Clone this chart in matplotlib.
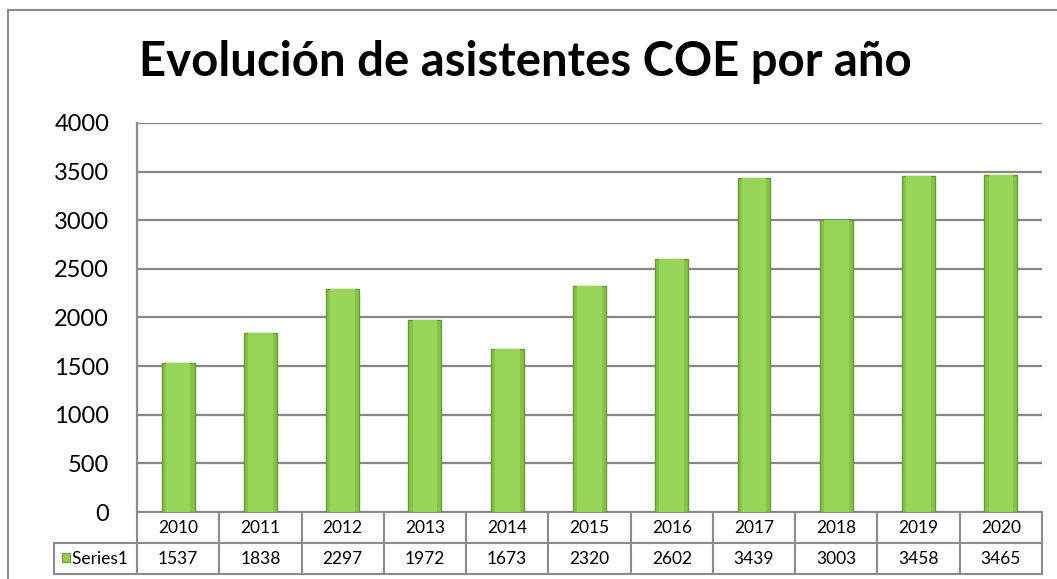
import matplotlib.pyplot as plt
from matplotlib.patches import Rectangle

years = ['2010', '2011', '2012', '2013', '2014', '2015', '2016', '2017', '2018', '2019', '2020']
asistentes = [1537, 1838, 2297, 1972, 1673, 2320, 2602, 3439, 3003, 3458, 3465]
serie = 'Series1'

plt.rcParams['font.family'] = ['Lato', 'DejaVu Sans']

fig = plt.figure(figsize=(10.57, 5.79), dpi=100)
ax = fig.add_axes([0.1296, 0.1157, 0.8562, 0.6719])

# borde exterior del grafico (solo se ve arriba e izquierda)
fig.patches.append(Rectangle((8 / 1057, -0.1), 1.2, 1 - 10 / 579 + 0.1, transform=fig.transFigure,
                             fill=False, edgecolor='#8c8c8c', linewidth=1.5))

x = range(len(years))
ax.bar(x, asistentes, width=0.4, color='#86c446', edgecolor='#6a963a', linewidth=1.0, zorder=3)
ax.bar(x, asistentes, width=0.3, color='#98d658', linewidth=0, zorder=3)

ax.set_xlim(-0.5, len(years) - 0.5)
ax.set_ylim(0, 4000)
ax.set_yticks(range(0, 4001, 500))
ax.set_xticks([])
ax.tick_params(axis='y', length=0, labelsize=17, pad=20)
ax.yaxis.grid(True, color='#878787', linewidth=1.6, zorder=0)
ax.set_axisbelow(True)
for s in ['top', 'right', 'bottom']:
    ax.spines[s].set_visible(False)
ax.spines['left'].set_color('#8c8c8c')
ax.spines['left'].set_linewidth(1.6)

# tabla de datos bajo el eje
lab_w = 83 / 905
row_h = 62 / 389
tbl = ax.table(cellText=[['  ' + serie] + [str(v) for v in asistentes]],
               colLabels=[''] + years,
               colWidths=[lab_w] + [1 / len(years)] * len(years),
               cellLoc='center',
               bbox=[-lab_w, -row_h, 1 + lab_w, row_h])
tbl.auto_set_font_size(False)
tbl.set_fontsize(12.5)
for (r, c), cell in tbl.get_celld().items():
    cell.set_edgecolor('#8c8c8c')
    cell.set_linewidth(1.5)
corner = tbl[0, 0]
corner.visible_edges = ''
lab = tbl[1, 0]
lab._loc = 'left'
ax.add_patch(Rectangle((-75 / 905, -50 / 389), 8 / 905, 9 / 389, transform=ax.transAxes,
                       clip_on=False, facecolor='#8fcd4f', edgecolor='#6f9e3c', linewidth=0.8))

fig.text(0.497, 0.893, 'Evolución de asistentes COE por año', ha='center', va='center',
         fontsize=34, fontweight='bold')

fig.savefig('out.png', dpi=100)
